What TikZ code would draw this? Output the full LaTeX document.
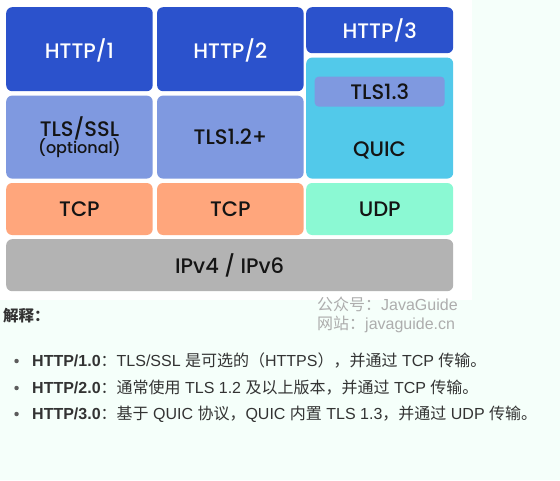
\documentclass[tikz,border=0pt]{standalone}
\usepackage{xcolor}
\usepackage{fontspec}
\setmainfont{Liberation Sans}
\newfontfamily\cjk{Noto Sans CJK SC}
\newfontfamily\boxfont{Poppins Medium}
\usepackage{tikz}
\usetikzlibrary{positioning}

\definecolor{httpblue}{HTML}{2B52CC}
\definecolor{tlsblue}{HTML}{7F99E0}
\definecolor{quiccyan}{HTML}{52C9EA}
\definecolor{tcporange}{HTML}{FFA67C}
\definecolor{udpgreen}{HTML}{8BF9D3}
\definecolor{ipgray}{HTML}{B3B3B3}
\definecolor{mintbg}{HTML}{F5FFFA}
\definecolor{notegray}{HTML}{333333}
\definecolor{markgray}{HTML}{ADADAD}

\begin{document}
\begin{tikzpicture}[x=1pt, y=-1pt, node distance=4pt,
    layer/.style={rectangle, rounded corners=6pt, inner sep=0pt, minimum width=146.5pt, text=black!92, font=\boxfont\fontsize{21}{23}\selectfont},
    httplayer/.style={layer, fill=httpblue, text=white},
    note/.style={anchor=west, inner sep=0pt, text=notegray, font=\fontsize{16}{18}\selectfont},
    watermark/.style={anchor=west, inner sep=0pt, text=markgray, font=\fontsize{16}{18}\selectfont},
    dot/.style={circle, fill=notegray!80, inner sep=0pt, minimum size=4.5pt}]
    \useasboundingbox (0,0) rectangle (560,480);
    \fill[mintbg] (0,0) rectangle (560,480);
    \fill[white] (0,0) rectangle (472,300);

    % Layers
    \node[httplayer, minimum height=84pt, text height=19pt, text depth=0pt, anchor=north west] (http1) at (6,7) {HTTP/1};
    \node[httplayer, minimum height=84pt, text height=18pt, text depth=0pt, right=4pt of http1] (http2) {HTTP/2};
    \node[httplayer, minimum width=147pt, minimum height=46pt, anchor=north west] (http3) at (306,7) {HTTP/3};
    \node[layer, fill=tlsblue, minimum height=83pt, align=center, below=of http1] (tlsssl) {TLS/SSL\\[-6pt]{\fontsize{16}{17}\selectfont (optional)}};
    \node[layer, fill=tlsblue, minimum height=83pt, below=of http2] (tls12) {TLS1.2+};
    \node[layer, fill=quiccyan, minimum width=147pt, minimum height=121pt, below=of http3] (quic) {};
    \node[layer, fill=tlsblue, rounded corners=4pt, minimum width=130pt, minimum height=30pt, below=19pt of quic.north] (tls13) {TLS1.3};
    \node[layer, minimum width=0pt] (quicname) at (379.5,150) {QUIC};
    \node[layer, fill=tcporange, minimum height=52pt, below=of tlsssl] (tcp1) {TCP};
    \node[layer, fill=tcporange, minimum height=52pt, below=of tls12] (tcp2) {TCP};
    \node[layer, fill=udpgreen, minimum width=147pt, minimum height=52pt, below=of quic] (udp) {UDP};
    \node[layer, fill=ipgray, minimum width=447pt, minimum height=52pt, anchor=north west] (ip) at (6,239) {IPv4 / IPv6};

    % Watermark
    \node[watermark] (wechat) at (317,304) {{\cjk 公众号：}JavaGuide};
    \node[watermark] (site) at (317,324) {{\cjk 网站：}javaguide.cn};

    % Notes
    \node[note, font=\cjk\bfseries\fontsize{15.5}{18}\selectfont] (explain) at (3,316) {解释：};
    \node[note] (note1) at (32,361) {\textbf{HTTP/1.0}{\cjk ：}TLS/SSL {\cjk 是可选的（}HTTPS{\cjk ），并通过} TCP {\cjk 传输。}};
    \node[note] (note2) at (32,388) {\textbf{HTTP/2.0}{\cjk ：通常使用} TLS 1.2 {\cjk 及以上版本，并通过} TCP {\cjk 传输。}};
    \node[note] (note3) at (32,414) {\textbf{HTTP/3.0}{\cjk ：基于} QUIC {\cjk 协议，}QUIC {\cjk 内置} TLS 1.3{\cjk ，并通过} UDP {\cjk 传输。}};
    \node[dot, left=13pt of note1.west] (dot1) {};
    \node[dot, left=13pt of note2.west] (dot2) {};
    \node[dot, left=13pt of note3.west] (dot3) {};
\end{tikzpicture}
\end{document}
